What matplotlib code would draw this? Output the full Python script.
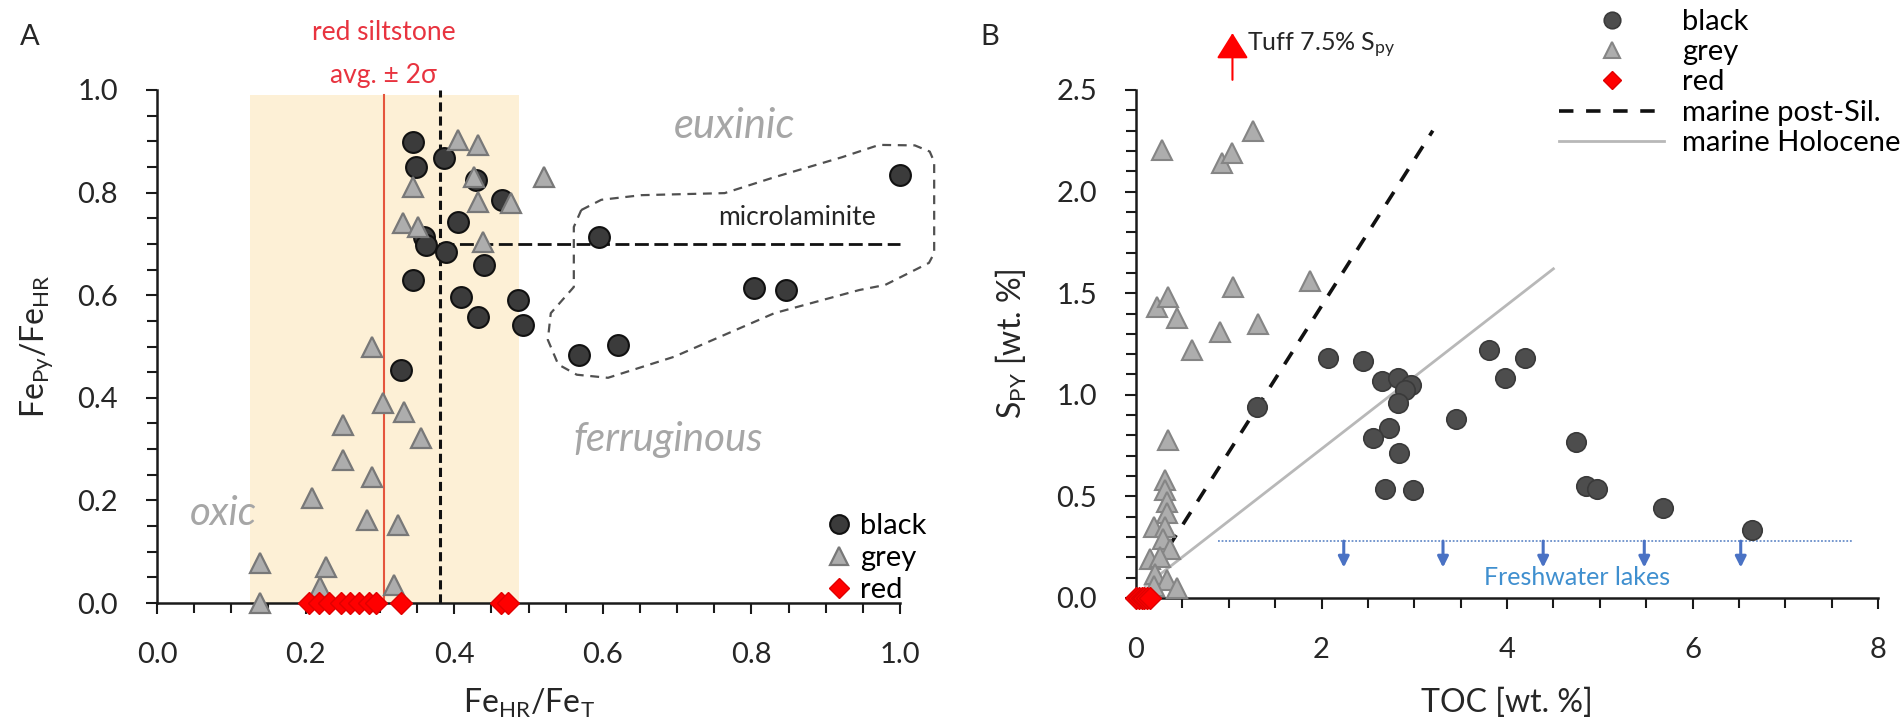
import matplotlib

matplotlib.use("Agg")

import matplotlib.pyplot as plt
from matplotlib.lines import Line2D
from matplotlib.ticker import FormatStrFormatter, MultipleLocator

plt.rcParams["font.family"] = ["Lato", "DejaVu Sans"]
plt.rcParams["mathtext.fontset"] = "custom"
plt.rcParams["mathtext.rm"] = "Lato"
plt.rcParams["mathtext.it"] = "Lato:italic"

# ---- panel A data (FeHR/FeT vs FePy/FeHR) ----
a_black_x = [0.345, 0.348, 0.386, 0.464, 0.430, 0.405, 0.359, 0.362, 0.389, 0.440, 0.344,
             0.409, 0.432, 0.486, 0.492, 0.595, 0.568, 0.621, 0.803, 0.847, 1.000, 0.328]
a_black_y = [0.899, 0.850, 0.867, 0.785, 0.825, 0.743, 0.713, 0.698, 0.684, 0.659, 0.630,
             0.597, 0.558, 0.591, 0.542, 0.713, 0.483, 0.503, 0.614, 0.610, 0.835, 0.454]
a_grey_x = [0.405, 0.432, 0.344, 0.331, 0.351, 0.427, 0.432, 0.476, 0.439, 0.521,
            0.290, 0.304, 0.332, 0.250, 0.355, 0.250, 0.290, 0.209, 0.283, 0.325,
            0.139, 0.227, 0.220, 0.319, 0.139]
a_grey_y = [0.903, 0.893, 0.811, 0.741, 0.733, 0.830, 0.782, 0.780, 0.704, 0.830,
            0.499, 0.390, 0.373, 0.347, 0.322, 0.279, 0.246, 0.205, 0.162, 0.152,
            0.078, 0.070, 0.031, 0.035, 0.000]
a_red_x = [0.205, 0.218, 0.232, 0.248, 0.260, 0.272, 0.285, 0.295, 0.328, 0.463, 0.472]
a_red_y = [0.0] * len(a_red_x)

# red siltstone band (avg +- 2 sigma), averages and microlaminite envelope
band_lo, band_hi, red_avg = 0.125, 0.487, 0.305
fehr_threshold, fepy_threshold = 0.381, 0.70
envelope_x = [0.571, 0.598, 0.652, 0.764, 0.831, 0.922, 0.972, 1.020, 1.040, 1.046, 1.046,
              1.039, 0.980, 0.945, 0.831, 0.696, 0.607, 0.565, 0.540, 0.526, 0.530, 0.561,
              0.561, 0.571]
envelope_y = [0.766, 0.786, 0.795, 0.799, 0.830, 0.869, 0.893, 0.892, 0.880, 0.860, 0.682,
              0.663, 0.620, 0.610, 0.565, 0.480, 0.439, 0.445, 0.465, 0.513, 0.565, 0.616,
              0.733, 0.766]

# ---- panel B data (TOC vs Spy) ----
b_black_x = [1.30, 2.07, 2.45, 2.65, 2.82, 2.97, 2.90, 2.82, 2.73, 2.56, 2.84, 2.68, 2.99,
             3.45, 3.81, 4.19, 3.98, 4.74, 4.85, 4.97, 5.68, 6.64]
b_black_y = [0.94, 1.18, 1.165, 1.066, 1.083, 1.05, 1.025, 0.96, 0.837, 0.787, 0.714, 0.536,
             0.533, 0.881, 1.222, 1.181, 1.083, 0.766, 0.55, 0.536, 0.443, 0.336]
b_grey_x = [0.28, 0.93, 1.04, 1.26, 0.23, 0.35, 0.44, 1.05, 0.91, 0.60, 1.31, 1.88,
            0.35, 0.31, 0.31, 0.33, 0.33, 0.19, 0.31, 0.29, 0.37, 0.15, 0.26, 0.20,
            0.33, 0.44, 0.19]
b_grey_y = [2.205, 2.14, 2.19, 2.30, 1.43, 1.48, 1.38, 1.53, 1.31, 1.22, 1.35, 1.56,
            0.78, 0.58, 0.53, 0.47, 0.42, 0.35, 0.35, 0.29, 0.24, 0.19, 0.20, 0.12,
            0.09, 0.05, 0.06]
b_red_x = [0.0, 0.03, 0.06, 0.09, 0.12, 0.15]
b_red_y = [0.0] * len(b_red_x)

post_sil_x = [0.35, 3.2]
post_sil_y = [0.25, 2.30]
holocene_x = [0.1, 4.5]
holocene_y = [0.06, 1.62]
lake_level = 0.28
lake_x = [0.88, 7.73]
lake_arrows_x = [2.24, 3.31, 4.39, 5.48, 6.52]
tuff_x = 1.04

TXT = "#262626"
GREYTXT = "#a6a6a6"

black_a = dict(marker="o", ms=15, mfc="#3b3b3b", mec="#111111", mew=1.5, ls="none")
grey_a = dict(marker="^", ms=15, mfc="#adadad", mec="#787878", mew=1.6, ls="none")
red_a = dict(marker="D", ms=11, mfc="#ff0000", mec="#e00000", mew=1, ls="none")
black_b = dict(marker="o", ms=14, mfc="#4d4d4d", mec="#3a3a3a", mew=1.2, ls="none")
grey_b = dict(marker="^", ms=14, mfc="#adadad", mec="#858585", mew=1.5, ls="none")

fig = plt.figure(figsize=(19.04, 7.28), dpi=100)
axA = fig.add_axes([157 / 1904, 1 - 603 / 728, 743 / 1904, 513 / 728])
axB = fig.add_axes([1136 / 1904, 1 - 598 / 728, 742 / 1904, 508 / 728])


def style_axes(ax):
    for side in ("top", "right"):
        ax.spines[side].set_visible(False)
    for side in ("left", "bottom"):
        ax.spines[side].set_linewidth(1.8)
        ax.spines[side].set_color("#1a1a1a")
    ax.tick_params(which="both", direction="out", width=1.5, colors="#1a1a1a",
                   labelcolor=TXT, labelsize=21, pad=20)
    ax.tick_params(which="major", length=8)
    ax.tick_params(which="minor", length=7)


# ---------------- panel A ----------------
style_axes(axA)
axA.set_xlim(0, 1.0)
axA.set_ylim(0, 1.0)
axA.xaxis.set_major_locator(MultipleLocator(0.2))
axA.xaxis.set_minor_locator(MultipleLocator(0.05))
axA.yaxis.set_major_locator(MultipleLocator(0.2))
axA.yaxis.set_minor_locator(MultipleLocator(0.05))
axA.xaxis.set_major_formatter(FormatStrFormatter("%.1f"))
axA.yaxis.set_major_formatter(FormatStrFormatter("%.1f"))

axA.axvspan(band_lo, band_hi, ymin=0, ymax=0.99, color="#fdf0d6", lw=0, zorder=0)
axA.plot([red_avg, red_avg], [0, 0.99], color="#e5553d", lw=1.5, zorder=1)
axA.plot([fehr_threshold, fehr_threshold], [0, 1.0], color="#111111", lw=2.2,
         ls=(0, (3, 1.6)), zorder=2, clip_on=False)
axA.plot([fehr_threshold, 1.0], [fepy_threshold, fepy_threshold], color="#111111", lw=2.0,
         ls=(0, (5, 2)), zorder=2, clip_on=False)
axA.plot(envelope_x, envelope_y, color="#505050", lw=1.6, ls=(0, (4, 3)), zorder=2,
         clip_on=False)

axA.plot(a_black_x, a_black_y, zorder=4, clip_on=False, **black_a)
axA.plot(a_grey_x, a_grey_y, zorder=5, clip_on=False, **grey_a)
axA.plot(a_red_x, a_red_y, zorder=6, clip_on=False, **red_a)

axA.text(red_avg, 1.113, "red siltstone", color="#e8333f", fontsize=19,
         ha="center", va="center", clip_on=False)
axA.text(red_avg, 1.029, "avg. ± 2σ", color="#e8333f", fontsize=19,
         ha="center", va="center", clip_on=False)
axA.text(0.777, 0.93, "euxinic", color=GREYTXT, fontsize=30, style="italic",
         ha="center", va="center")
axA.text(0.861, 0.752, "microlaminite", color=TXT, fontsize=19, ha="center", va="center")
axA.text(0.688, 0.318, "ferruginous", color=GREYTXT, fontsize=29, style="italic",
         ha="center", va="center")
axA.text(0.089, 0.175, "oxic", color=GREYTXT, fontsize=29, style="italic",
         ha="center", va="center")

axA.set_xlabel(r"Fe$_\mathregular{HR}$/Fe$_\mathregular{T}$", fontsize=23, color=TXT,
               labelpad=14)
axA.set_ylabel(r"Fe$_\mathregular{Py}$/Fe$_\mathregular{HR}$", fontsize=23, color=TXT,
               labelpad=16)

handles_a = [Line2D([], [], **black_a), Line2D([], [], **grey_a), Line2D([], [], **red_a)]
axA.legend(handles_a, ["black", "grey", "red"], loc="lower right",
           bbox_to_anchor=(1.035, 0.0), frameon=False, fontsize=21, handlelength=0.8,
           handletextpad=0.3, labelspacing=0.2, borderpad=0, borderaxespad=0,
           markerscale=0.9)

# ---------------- panel B ----------------
style_axes(axB)
axB.set_xlim(0, 8)
axB.set_ylim(0, 2.5)
axB.xaxis.set_major_locator(MultipleLocator(2))
axB.xaxis.set_minor_locator(MultipleLocator(0.5))
axB.yaxis.set_major_locator(MultipleLocator(0.5))
axB.yaxis.set_minor_locator(MultipleLocator(0.1))
axB.xaxis.set_major_formatter(FormatStrFormatter("%d"))
axB.yaxis.set_major_formatter(FormatStrFormatter("%.1f"))

axB.plot(post_sil_x, post_sil_y, color="#111111", lw=2.6, ls=(0, (4, 3.5)), zorder=2)
axB.plot(holocene_x, holocene_y, color="#b8b8b8", lw=2.0, zorder=2)
axB.plot(lake_x, [lake_level, lake_level], color="#6a8fca", lw=1.3, ls=(0, (1, 1)),
         zorder=2)
for xa in lake_arrows_x:
    axB.annotate("", xy=(xa, 0.15), xytext=(xa, lake_level),
                 arrowprops=dict(arrowstyle="-|>", color="#4a72c4", lw=2.2,
                                 mutation_scale=16, shrinkA=0, shrinkB=0))
axB.text(4.76, 0.10, "Freshwater lakes", color="#3f8fcf", fontsize=18,
         ha="center", va="center")

axB.plot(b_black_x, b_black_y, zorder=4, clip_on=False, **black_b)
axB.plot(b_grey_x, b_grey_y, zorder=5, clip_on=False, **grey_b)
axB.plot(b_red_x, b_red_y, zorder=6, clip_on=False, **red_a)

axB.annotate("", xy=(tuff_x, 2.78), xytext=(tuff_x, 2.55), annotation_clip=False,
             arrowprops=dict(arrowstyle="-|>,head_length=0.8,head_width=0.5",
                             color="#ff0000", lw=1.5, mutation_scale=20,
                             shrinkA=0, shrinkB=0))
axB.text(tuff_x + 0.16, 2.72, r"Tuff 7.5% S$_\mathregular{py}$", color=TXT, fontsize=18,
         ha="left", va="center", clip_on=False)

axB.set_xlabel("TOC [wt. %]", fontsize=23, color=TXT, labelpad=18)
axB.set_ylabel(r"S$_\mathregular{PY}$ [wt. %]", fontsize=23, color=TXT, labelpad=20)

handles_b = [
    Line2D([], [], **black_b),
    Line2D([], [], **grey_b),
    Line2D([], [], **red_a),
    Line2D([], [], color="#111111", lw=2.6, ls=(0, (4, 3.5))),
    Line2D([], [], color="#b8b8b8", lw=2.0),
]
axB.legend(handles_b, ["black", "grey", "red", "marine post-Sil.", "marine Holocene"],
           loc="upper right", bbox_to_anchor=(1.03, 1.16), frameon=False, fontsize=21,
           handlelength=3.6, handletextpad=0.6, labelspacing=0.15, borderpad=0,
           borderaxespad=0, markerscale=0.85)

fig.text(30 / 1904, 1 - 37 / 728, "A", fontsize=21, color=TXT, ha="center", va="center")
fig.text(990 / 1904, 1 - 37 / 728, "B", fontsize=21, color=TXT, ha="center", va="center")

fig.savefig("out.png", dpi=100, facecolor="white")
